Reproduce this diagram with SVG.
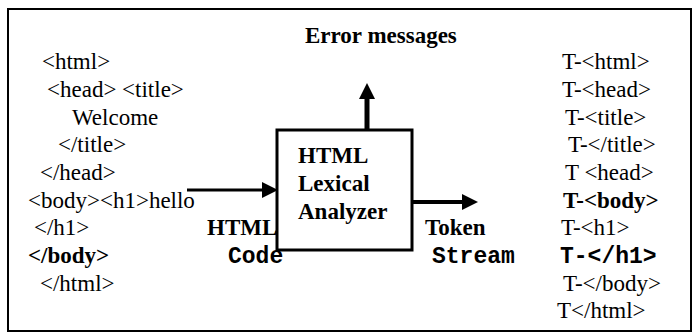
<svg xmlns="http://www.w3.org/2000/svg" width="698" height="333" viewBox="0 0 698 333">
<style>
.t{font-family:"Liberation Serif","Times New Roman",serif;font-size:23px;fill:#000}
.b{font-weight:bold}
.m{font-family:"Liberation Mono","Courier New",monospace;font-size:23px;font-weight:bold;fill:#000}
.line{stroke:#000;fill:none}
</style>
<defs>
<marker id="ah" markerUnits="userSpaceOnUse" markerWidth="18" markerHeight="18" refX="0" refY="9" orient="auto" viewBox="0 0 18 18">
<path d="M0,1 L16,9 L0,17 Z" fill="#000"/>
</marker>
</defs>
<rect x="8" y="9" width="683" height="322" fill="#fff" stroke="#000" stroke-width="2"/>
<g id="errors">
<text class="t b" x="305" y="43">Error messages</text>
</g>
<g id="analyzer">
<rect x="277" y="130" width="135" height="120" fill="#fff" stroke="#000" stroke-width="3"/>
<text class="t b" x="298" y="163">HTML</text>
<text class="t b" x="298" y="191">Lexical</text>
<text class="t b" x="298" y="219">Analyzer</text>
</g>
<g id="html-source">
<text class="t" x="42" y="69">&lt;html&gt;</text>
<text class="t" x="47" y="97">&lt;head&gt; &lt;title&gt;</text>
<text class="t" x="72" y="124.5">Welcome</text>
<text class="t" x="58" y="152">&lt;/title&gt;</text>
<text class="t" x="40" y="180">&lt;/head&gt;</text>
<text class="t" x="28" y="207.5">&lt;body&gt;&lt;h1&gt;hello</text>
<text class="t" x="34" y="235">&lt;/h1&gt;</text>
<text class="t b" x="28" y="263">&lt;/body&gt;</text>
<text class="t" x="40" y="290.5">&lt;/html&gt;</text>
</g>
<g id="html-code-label">
<text class="t b" x="207" y="235">HTML</text>
<text class="m" x="228" y="263">Code</text>
</g>
<g id="token-stream-label">
<text class="t b" x="425" y="235">Token</text>
<text class="m" x="432" y="263">Stream</text>
</g>
<g id="tokens">
<text class="t" x="562" y="69">T-&lt;html&gt;</text>
<text class="t" x="562" y="97">T-&lt;head&gt;</text>
<text class="t" x="565" y="124.5">T-&lt;title&gt;</text>
<text class="t" x="568" y="152">T-&lt;/title&gt;</text>
<text class="t" x="565" y="180">T &lt;head&gt;</text>
<text class="t b" x="563" y="207.5">T-&lt;body&gt;</text>
<text class="t" x="561" y="235">T-&lt;h1&gt;</text>
<text class="m" x="560" y="263">T-&lt;/h1&gt;</text>
<text class="t" x="563" y="290.5">T-&lt;/body&gt;</text>
<text class="t" x="557" y="318">T&lt;/html&gt;</text>
</g>
<g id="connectors">
<line class="line" x1="187" y1="190" x2="262" y2="190" stroke-width="3" marker-end="url(#ah)"/>
<line class="line" x1="412" y1="202" x2="462" y2="202" stroke-width="4" marker-end="url(#ah)"/>
<line class="line" x1="367" y1="130" x2="367" y2="99" stroke-width="5" marker-end="url(#ah)"/>
</g>
</svg>
